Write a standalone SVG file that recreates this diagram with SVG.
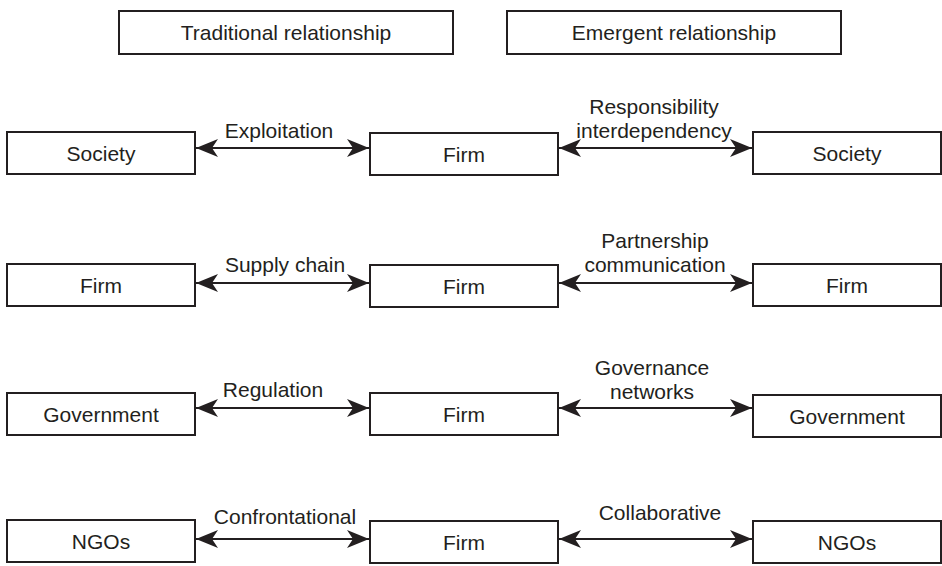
<svg xmlns="http://www.w3.org/2000/svg" width="942" height="566" viewBox="0 0 942 566">
<style>
.box{fill:#fff;stroke:#231f20;stroke-width:2}
.t{font-family:"Liberation Sans",Arial,sans-serif;font-size:21px;fill:#231f20;text-anchor:middle}
.c{stroke:#231f20;stroke-width:2;fill:none}
</style>
<defs>
<marker id="ah" viewBox="0 0 22 18" refX="22" refY="9" markerWidth="22" markerHeight="18" markerUnits="userSpaceOnUse" orient="auto-start-reverse">
<path d="M0,0 L22,9 L0,18 L6,9 Z" fill="#231f20"/>
</marker>
</defs>
<rect width="942" height="566" fill="#fff"/>
<g id="hdr-trad"><rect class="box" x="119" y="11" width="334" height="43"/><text class="t" x="286" y="40">Traditional relationship</text></g>
<g id="hdr-emer"><rect class="box" x="507" y="11" width="334" height="43"/><text class="t" x="674" y="40">Emergent relationship</text></g>

<g id="r1-left"><rect class="box" x="7" y="132" width="188" height="42"/><text class="t" x="101" y="161">Society</text></g>
<g id="r1-mid"><rect class="box" x="370" y="133" width="188" height="42"/><text class="t" x="464" y="162">Firm</text></g>
<g id="r1-right"><rect class="box" x="753" y="132" width="188" height="42"/><text class="t" x="847" y="161">Society</text></g>

<g id="r2-left"><rect class="box" x="7" y="264" width="188" height="42"/><text class="t" x="101" y="293">Firm</text></g>
<g id="r2-mid"><rect class="box" x="370" y="265" width="188" height="42"/><text class="t" x="464" y="294">Firm</text></g>
<g id="r2-right"><rect class="box" x="753" y="264" width="188" height="42"/><text class="t" x="847" y="293">Firm</text></g>

<g id="r3-left"><rect class="box" x="7" y="393" width="188" height="42"/><text class="t" x="101" y="422">Government</text></g>
<g id="r3-mid"><rect class="box" x="370" y="393" width="188" height="42"/><text class="t" x="464" y="422">Firm</text></g>
<g id="r3-right"><rect class="box" x="753" y="395" width="188" height="42"/><text class="t" x="847" y="424">Government</text></g>

<g id="r4-left"><rect class="box" x="7" y="520" width="188" height="42"/><text class="t" x="101" y="549">NGOs</text></g>
<g id="r4-mid"><rect class="box" x="370" y="521" width="188" height="42"/><text class="t" x="464" y="550">Firm</text></g>
<g id="r4-right"><rect class="box" x="753" y="521" width="188" height="42"/><text class="t" x="847" y="550">NGOs</text></g>

<g id="connectors">
<line class="c" x1="196" y1="148" x2="369" y2="148" marker-start="url(#ah)" marker-end="url(#ah)"/>
<line class="c" x1="559" y1="148" x2="752" y2="148" marker-start="url(#ah)" marker-end="url(#ah)"/>
<line class="c" x1="196" y1="283" x2="369" y2="283" marker-start="url(#ah)" marker-end="url(#ah)"/>
<line class="c" x1="559" y1="283" x2="752" y2="283" marker-start="url(#ah)" marker-end="url(#ah)"/>
<line class="c" x1="196" y1="408" x2="369" y2="408" marker-start="url(#ah)" marker-end="url(#ah)"/>
<line class="c" x1="559" y1="408" x2="752" y2="408" marker-start="url(#ah)" marker-end="url(#ah)"/>
<line class="c" x1="196" y1="539" x2="369" y2="539" marker-start="url(#ah)" marker-end="url(#ah)"/>
<line class="c" x1="559" y1="539" x2="752" y2="539" marker-start="url(#ah)" marker-end="url(#ah)"/>
</g>
<g id="labels">
<text class="t" x="279" y="138">Exploitation</text>
<text class="t" x="654" y="114">Responsibility</text>
<text class="t" x="654" y="138">interdependency</text>
<text class="t" x="285" y="272">Supply chain</text>
<text class="t" x="655" y="248">Partnership</text>
<text class="t" x="655" y="272">communication</text>
<text class="t" x="273" y="397">Regulation</text>
<text class="t" x="652" y="375">Governance</text>
<text class="t" x="652" y="399">networks</text>
<text class="t" x="285" y="524">Confrontational</text>
<text class="t" x="660" y="520">Collaborative</text>
</g>
</svg>
